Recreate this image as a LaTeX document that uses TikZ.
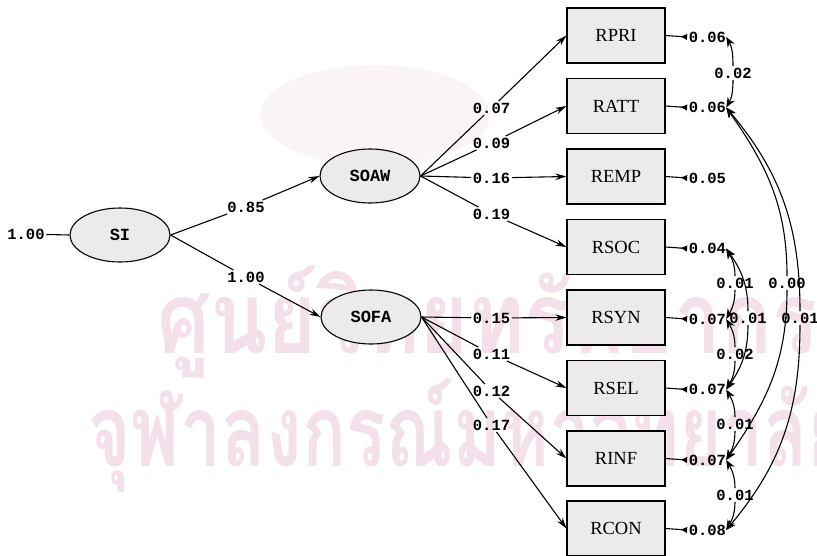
\documentclass[tikz,border=0pt]{standalone}
\usepackage{fontspec}
\setmainfont{Liberation Serif}
\setmonofont{Liberation Mono}
\newfontfamily\thaifont[Script=Thai]{Loma}
\usetikzlibrary{arrows.meta,shapes.geometric}
\definecolor{wm}{RGB}{243,224,235}
\definecolor{wmlogo}{RGB}{251,244,246}
\definecolor{boxfill}{RGB}{236,234,234}
\begin{document}
\begin{tikzpicture}[x=1pt,y=1pt,
  latent/.style={ellipse,draw,line width=1.1pt,fill=boxfill,minimum width=100pt,minimum height=54pt,inner sep=0pt,font=\ttfamily\bfseries\fontsize{17}{17}\selectfont},
  obs/.style={rectangle,draw,line width=1.2pt,fill=boxfill,minimum width=98pt,minimum height=55pt,inner sep=0pt,font=\fontsize{18.5}{18.5}\selectfont},
  num/.style={inner sep=1.5pt,font=\ttfamily\bfseries\fontsize{15.5}{15.5}\selectfont},
  lnk/.style={line width=1.1pt},
  arr/.style={line width=1.1pt,-{Stealth[length=11pt,width=6.5pt]}},
  errarr/.style={line width=1.1pt,-{Latex[reversed,length=7pt,width=6.5pt]}},
  covs/.style={line width=1.1pt,{Stealth[length=10pt,width=8pt]}-},
  cove/.style={line width=1.1pt,-{Stealth[length=10pt,width=8pt]}},
  wmtext/.style={text=wm,inner sep=0pt,font=\thaifont\bfseries\fontsize{100}{100}\selectfont}
]
\useasboundingbox (0,0) rectangle (817,-555);
% watermark
\fill[wmlogo] (375,-115) ellipse (115 and 50);
\node[wmtext,anchor=base west] (wm1) at (157,-353) {\scalebox{0.84}[1]{ศูนย์วิทยทรัพยากร}};
\node[wmtext,anchor=base west] (wm2) at (88,-466) {\scalebox{0.73}[1]{จุฬาลงกรณ์มหาวิทยาลัย}};

% latent variables
\node[latent] (SI) at (120,-235) {SI};
\node[latent] (SOAW) at (370,-176) {SOAW};
\node[latent] (SOFA) at (371,-317) {SOFA};

% observed
\node[obs] (RPRI) at (616,-35.5) {RPRI};
\node[obs] (RATT) at (616,-106) {RATT};
\node[obs] (REMP) at (616,-176.5) {REMP};
\node[obs] (RSOC) at (616,-247) {RSOC};
\node[obs] (RSYN) at (616,-317.5) {RSYN};
\node[obs] (RSEL) at (616,-388) {RSEL};
\node[obs] (RINF) at (616,-458.5) {RINF};
\node[obs] (RCON) at (616,-528.5) {RCON};

% SI
\node[num] (v0) at (26,-234) {1.00};
\draw[lnk] (v0) -- (SI.west);
\node[num] (l85) at (246,-207) {0.85};
\node[num] (l100) at (246,-277) {1.00};
\draw[lnk] (SI.east) -- (l85);
\draw[arr] (l85) -- (SOAW.west);
\draw[lnk] (SI.east) -- (l100);
\draw[arr] (l100) -- (SOFA.west);

% loadings
\foreach \lab/\yy/\bx/\src in {0.07/108/RPRI/SOAW, 0.09/143/RATT/SOAW, 0.16/178/REMP/SOAW, 0.19/214/RSOC/SOAW,
  0.15/318/RSYN/SOFA, 0.11/354/RSEL/SOFA, 0.12/391/RINF/SOFA, 0.17/425/RCON/SOFA}{
  \node[num] (L\bx) at (491.5,-\yy) {\lab};
  \draw[lnk] (\src.east) -- (L\bx);
  \draw[arr] (L\bx) -- (\bx.west);
}

% error variances
\foreach \lab/\bx in {0.06/RPRI, 0.06/RATT, 0.05/REMP, 0.04/RSOC, 0.07/RSYN, 0.07/RSEL, 0.07/RINF, 0.08/RCON}{
  \node[num,anchor=west,inner sep=0pt] (e\bx) at ([xshift=23pt,yshift=-1.5pt]\bx.east) {\lab};
  \draw[errarr] (\bx.east) -- ([xshift=-1.5pt]e\bx.west);
}

% error covariances
\node[num] (c1) at (733,-73) {0.02};
\node[num] (c2) at (735,-283) {0.01};
\node[num] (c3) at (748,-318) {0.01};
\node[num] (c4) at (735,-354) {0.02};
\node[num] (c5) at (735,-424) {0.01};
\node[num] (c6) at (735,-495) {0.01};
\node[num] (c7) at (787,-283) {0.00};
\node[num] (c8) at (800,-318) {0.01};

\draw[covs] (eRPRI.east) to[out=-60,in=90] (c1.north);
\draw[cove] (c1.south) to[out=-90,in=60] (eRATT.east);
\draw[covs] (eRSOC.east) to[out=-60,in=90] (c2.north);
\draw[cove] (c2.south) to[out=-90,in=60] (eRSYN.east);
\draw[covs] (eRSOC.east) to[out=-55,in=90] (c3.north);
\draw[cove] (c3.south) to[out=-90,in=55] (eRSEL.east);
\draw[covs] (eRSYN.east) to[out=-60,in=90] (c4.north);
\draw[cove] (c4.south) to[out=-90,in=60] (eRSEL.east);
\draw[covs] (eRSEL.east) to[out=-60,in=90] (c5.north);
\draw[cove] (c5.south) to[out=-90,in=60] (eRINF.east);
\draw[covs] (eRINF.east) to[out=-60,in=90] (c6.north);
\draw[cove] (c6.south) to[out=-90,in=60] (eRCON.east);
\draw[covs] (eRATT.east) to[out=-55,in=90] (c7.north);
\draw[cove] (c7.south) to[out=-90,in=55] (eRINF.east);
\draw[covs] (eRATT.east) to[out=-50,in=90] (c8.north);
\draw[cove] (c8.south) to[out=-90,in=50] (eRCON.east);
\end{tikzpicture}
\end{document}
